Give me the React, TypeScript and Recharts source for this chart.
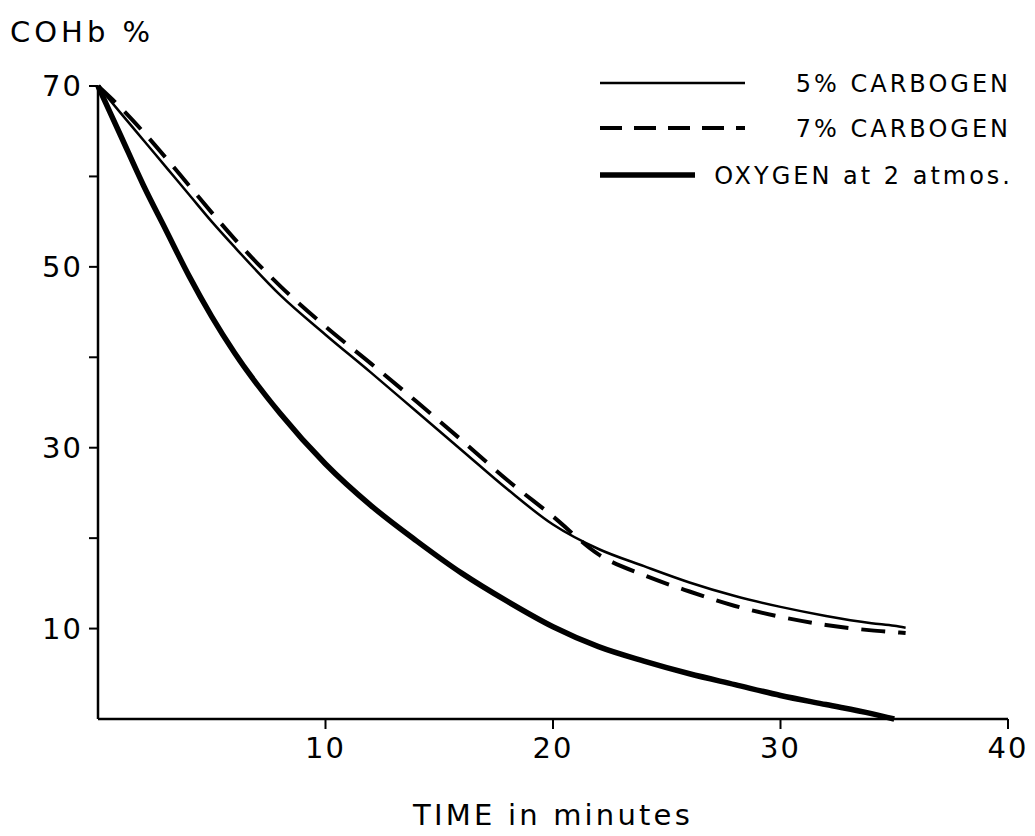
import { LineChart, Line, XAxis, YAxis, Label } from "recharts"

const times = [0, 1, 2, 3, 4, 5, 6, 8, 10, 12, 14, 16, 18, 20, 22, 24, 26, 28, 30, 32, 34, 35, 35.5]
const carbogen5 = [70, 67, 64, 61, 58, 55, 52.2, 46.9, 42.5, 38.3, 34, 29.7, 25.4, 21.5, 18.8, 16.9, 15.1, 13.6, 12.4, 11.4, 10.6, 10.3, 10.1]
const carbogen7 = [70, 67.6, 64.9, 62, 59, 56, 53.1, 47.9, 43.4, 39.3, 35.1, 30.8, 26.4, 22.4, 18.2, 15.9, 14.1, 12.5, 11.3, 10.4, 9.8, 9.6, 9.5]
const oxygen = [70, 64.5, 59, 54, 49, 44.5, 40.5, 33.8, 28.2, 23.6, 19.7, 16.1, 13, 10.2, 8, 6.4, 5, 3.8, 2.6, 1.6, 0.6, 0, null]
const yTicks = [10, 20, 30, 40, 50, 60, 70]
const yLabelled = [10, 30, 50, 70]
const xTicks = [10, 20, 30, 40]

const data = times.map((t, i) => ({
  t,
  c5: carbogen5[i],
  c7: carbogen7[i],
  o2: oxygen[i],
}))

const FONT = "'DejaVu Sans', Verdana, sans-serif"

function LegendBox() {
  const txt = { fontSize: 24, fontFamily: FONT, fill: "#000", letterSpacing: 3 }
  return (
    <svg width={435} height={140} style={{ position: "absolute", left: 598, top: 62 }}>
      <line x1={2} y1={21} x2={147} y2={21} stroke="#000" strokeWidth={2.5} />
      <text x={413} y={30} textAnchor="end" {...txt}>5% CARBOGEN</text>
      <line x1={2} y1={66} x2={147} y2={66} stroke="#000" strokeWidth={4} strokeDasharray="22 12" />
      <text x={413} y={75} textAnchor="end" {...txt}>7% CARBOGEN</text>
      <line x1={2} y1={113} x2={97} y2={113} stroke="#000" strokeWidth={5.5} />
      <text x={415} y={122} textAnchor="end" {...txt}>OXYGEN at 2 atmos.</text>
    </svg>
  )
}

export default function App() {
  const tickStyle = { fontSize: 29, fill: "#000", fontFamily: FONT, letterSpacing: 2 }
  return (
    <div style={{ position: "absolute", left: 0, top: 0, width: 1035, height: 836, background: "#fff" }}>
      <LineChart width={1035} height={836} data={data} margin={{ top: 86, right: 27, bottom: 0, left: 0 }}>
        <XAxis
          type="number"
          dataKey="t"
          domain={[0, 40]}
          ticks={xTicks}
          height={117}
          tick={tickStyle}
          tickSize={10}
          tickMargin={8}
          axisLine={{ stroke: "#000", strokeWidth: 2.5 }}
          tickLine={{ stroke: "#000", strokeWidth: 2 }}
        >
          <Label
            content={() => (
              <text x={553} y={825} textAnchor="middle" fontSize={29} fontFamily={FONT} fill="#000" letterSpacing={3.2}>
                TIME in minutes
              </text>
            )}
          />
        </XAxis>
        <YAxis
          type="number"
          domain={[0, 70]}
          ticks={yTicks}
          width={98}
          tick={tickStyle}
          tickSize={9}
          tickMargin={6}
          tickFormatter={(v) => (yLabelled.includes(v) ? String(v) : "")}
          axisLine={{ stroke: "#000", strokeWidth: 2.5 }}
          tickLine={{ stroke: "#000", strokeWidth: 2 }}
        >
          <Label
            content={() => (
              <text x={10} y={42} fontSize={29} fontFamily={FONT} fill="#000" letterSpacing={4}>
                COHb %
              </text>
            )}
          />
        </YAxis>
        <Line type="monotone" dataKey="c5" stroke="#000" strokeWidth={2.5} dot={false} isAnimationActive={false} />
        <Line type="monotone" dataKey="c7" stroke="#000" strokeWidth={4} strokeDasharray="24 13" dot={false} isAnimationActive={false} />
        <Line type="monotone" dataKey="o2" stroke="#000" strokeWidth={5.5} dot={false} isAnimationActive={false} />
      </LineChart>
      <LegendBox />
    </div>
  )
}
